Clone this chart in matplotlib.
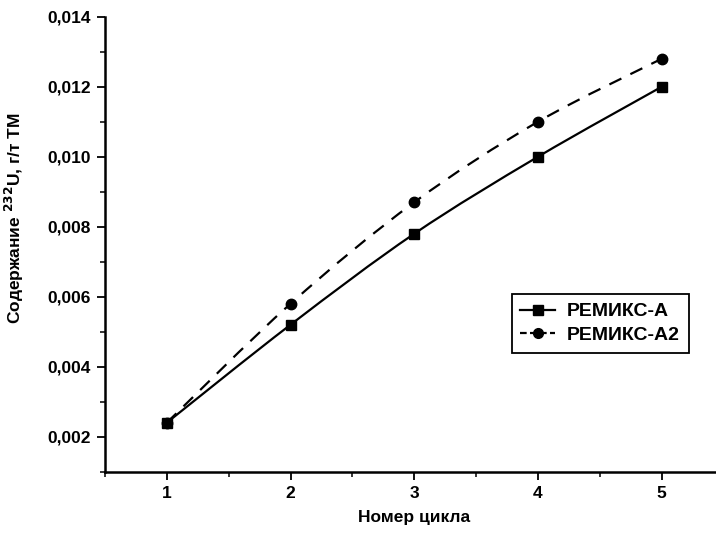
import numpy as np
import matplotlib
matplotlib.use("Agg")
import matplotlib.pyplot as plt
from matplotlib.path import Path
from matplotlib.patches import PathPatch
from matplotlib.lines import Line2D
from matplotlib.ticker import FuncFormatter, MultipleLocator

cycles = [1, 2, 3, 4, 5]
remix_a = [0.0024, 0.0052, 0.0078, 0.0100, 0.0120]
remix_a2 = [0.0024, 0.0058, 0.0087, 0.0110, 0.0128]
series_names = ["РЕМИКС-А", "РЕМИКС-А2"]

FONT = ["Liberation Sans Narrow", "Liberation Sans", "DejaVu Sans"]
plt.rcParams["font.family"] = FONT
plt.rcParams["font.weight"] = "bold"


def smooth_path(x, y):
    # Catmull-Rom through the data points, drawn as cubic Bezier segments
    P = np.column_stack([x, y]).astype(float)
    n = len(P)
    verts = [P[0]]
    codes = [Path.MOVETO]
    for i in range(n - 1):
        p0 = P[i - 1] if i > 0 else P[i]
        p3 = P[i + 2] if i + 2 < n else P[i + 1]
        c1 = P[i] + (P[i + 1] - p0) / 6
        c2 = P[i + 1] - (p3 - P[i]) / 6
        verts += [c1, c2, P[i + 1]]
        codes += [Path.CURVE4] * 3
    return Path(verts, codes)


fig = plt.figure(figsize=(7.16, 5.39), dpi=100)
ax = fig.add_axes([0.1466, 0.1249, 0.864, 0.844])

ax.add_patch(PathPatch(smooth_path(cycles, remix_a), fc="none", ec="black",
                       lw=1.6, ls="-", zorder=2))
ax.add_patch(PathPatch(smooth_path(cycles, remix_a2), fc="none", ec="black",
                       lw=1.6, ls=(0, (6, 4.5)), zorder=2))
ax.plot(cycles, remix_a, ls="none", marker="s", ms=6.5, color="black", zorder=3)
ax.plot(cycles, remix_a2, ls="none", marker="o", ms=7.5, color="black", zorder=3)

ax.set_xlim(0.5, 5.5)
ax.set_ylim(0.001, 0.014)
ax.xaxis.set_major_locator(MultipleLocator(1))
ax.xaxis.set_minor_locator(MultipleLocator(0.5))
ax.yaxis.set_major_locator(MultipleLocator(0.002))
ax.yaxis.set_minor_locator(MultipleLocator(0.001))
ax.yaxis.set_major_formatter(FuncFormatter(lambda v, p: f"{v:.3f}".replace(".", ",")))
ax.xaxis.set_major_formatter(FuncFormatter(lambda v, p: f"{v:.0f}"))

for s in ("top", "right"):
    ax.spines[s].set_visible(False)
for s in ("left", "bottom"):
    ax.spines[s].set_linewidth(1.8)
ax.tick_params(which="major", direction="out", length=6, width=1.3,
               labelsize=12.5, pad=4)
ax.tick_params(which="minor", direction="out", length=3.5, width=1.1)
for lab in ax.get_xticklabels() + ax.get_yticklabels():
    lab.set_fontweight("bold")

ax.set_xlabel("Номер цикла", fontsize=12.5, fontweight="bold", labelpad=7)
ax.set_ylabel("Содержание $^{232}$U, г/т ТМ", fontsize=12.5, fontweight="bold")
ax.yaxis.set_label_coords(-0.128, 0.557)

handles = [
    Line2D([], [], color="black", lw=1.6, ls="-", marker="s", ms=6.5),
    Line2D([], [], color="black", lw=1.6, ls=(0, (3, 1.5)), marker="o", ms=7),
]
leg = ax.legend(handles, series_names, loc="upper left",
                bbox_to_anchor=(0.7147, 0.4545), bbox_transform=fig.transFigure,
                borderaxespad=0, fancybox=False, edgecolor="black",
                framealpha=1, handlelength=1.8, handletextpad=0.6,
                labelspacing=0.3, borderpad=0.45,
                prop={"family": FONT, "weight": "bold", "size": 14})
leg.get_frame().set_linewidth(1.3)

fig.savefig("out.png", dpi=100, facecolor="white")
